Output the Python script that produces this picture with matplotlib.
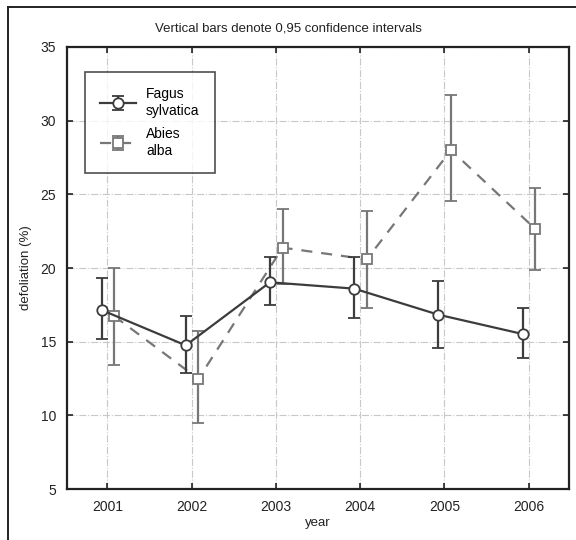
import numpy as np
import matplotlib.pyplot as plt
from matplotlib.lines import Line2D

plt.rcParams['font.family'] = ['Liberation Sans', 'DejaVu Sans']

years = [2001, 2002, 2003, 2004, 2005, 2006]

fagus_mean = [17.15, 14.75, 19.03, 18.6, 16.83, 15.52]
fagus_low = [15.16, 12.9, 17.47, 16.6, 14.59, 13.87]
fagus_high = [19.3, 16.72, 20.73, 20.73, 19.14, 17.31]

abies_mean = [16.74, 12.47, 21.38, 20.59, 28.0, 22.65]
abies_low = [13.44, 9.46, 18.92, 17.31, 24.57, 19.89]
abies_high = [20.0, 15.75, 23.98, 23.87, 31.73, 25.41]

fig = plt.figure(figsize=(5.76, 5.4), dpi=100)
ax = fig.add_axes([0.1163, 0.0944, 0.8715, 0.8186])

x = np.array(years, dtype=float)
fm = np.array(fagus_mean)
am = np.array(abies_mean)

c_fag = '#3c3c3c'
c_abi = '#777777'

ax.errorbar(x - 0.07, fm, yerr=[fm - np.array(fagus_low), np.array(fagus_high) - fm],
            color=c_fag, lw=1.6, marker='o', ms=7.5, mfc='white', mec=c_fag, mew=1.3,
            capsize=4, elinewidth=1.6, capthick=1.6, label='Fagus\nsylvatica', zorder=4)
ax.errorbar(x + 0.08, am, yerr=[am - np.array(abies_low), np.array(abies_high) - am],
            color=c_abi, lw=1.6, ls=(0, (5, 4)), marker='s', ms=7.5, mfc='white', mec=c_abi, mew=1.3,
            capsize=4, elinewidth=1.6, capthick=1.6, label='Abies\nalba', zorder=3)

ax.set_xlim(2000.52, 2006.48)
ax.set_ylim(5, 35)
ax.set_xticks(years)
ax.set_xticklabels([str(y) for y in years])
ax.set_yticks([5, 10, 15, 20, 25, 30, 35])
ax.grid(True, color='#c8c8c8', ls='-.', lw=0.8)
ax.set_axisbelow(True)
ax.tick_params(direction='in', length=4, width=1.2, top=True, right=True, labelsize=10,
               colors='#222222', pad=8)
for s in ax.spines.values():
    s.set_linewidth(1.6)
    s.set_color('#222222')

ax.set_xlabel('year', fontsize=9.5, color='#222222', labelpad=2)
ax.set_ylabel('defoliation (%)', fontsize=9.5, color='#222222', labelpad=6)
fig.text(0.5, 0.948, 'Vertical bars denote 0,95 confidence intervals', ha='center',
         va='center', fontsize=9.5, color='#222222')

leg = ax.legend(loc='upper left', bbox_to_anchor=(0.036, 0.943), borderaxespad=0,
                fontsize=10, frameon=True, fancybox=False, edgecolor='#222222',
                borderpad=1.1, labelspacing=0.7, handlelength=2.6, handletextpad=0.7)
leg.get_frame().set_linewidth(1.2)

# outer frame (left and top edges only visible)
fig.add_artist(Line2D([8 / 576, 8 / 576], [0, 1 - 7 / 540], transform=fig.transFigure,
                      color='#222222', lw=1.4))
fig.add_artist(Line2D([8 / 576, 1], [1 - 7 / 540, 1 - 7 / 540], transform=fig.transFigure,
                      color='#222222', lw=1.4))

fig.savefig('out.png', dpi=100)
